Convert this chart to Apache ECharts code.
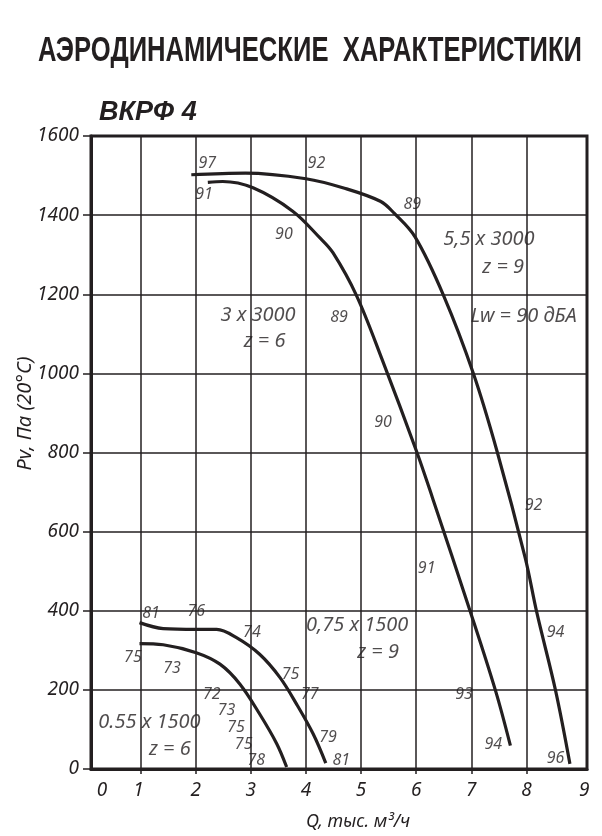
<!DOCTYPE html>
<html>
<head>
<meta charset="utf-8">
<script src="https://cdn.jsdelivr.net/npm/echarts@6/dist/echarts.min.js"></script>
<style>
  html, body { margin: 0; padding: 0; background: #fff; }
  #chart { width: 602px; height: 836px; }
</style>
</head>
<body>
<div id="chart"></div>
<script>
// Кривые Pv(Q): [Q, тыс. м3/ч ; Pv, Па]
var curve5530 = [[1.92, 1502], [2.9, 1506], [4.0, 1492], [4.7, 1468], [5.35, 1435], [5.6, 1405], [5.98, 1345], [6.5, 1196], [7.04, 999], [7.47, 802], [7.98, 533], [8.19, 395], [8.53, 198], [8.79, 13]];
var curve330 = [[2.22, 1483], [2.49, 1485], [3.04, 1469], [3.76, 1410], [4.25, 1343], [4.49, 1305], [4.92, 1196], [5.38, 1036], [6.01, 802], [6.3, 684], [6.98, 399], [7.44, 198], [7.71, 59]];
var curve07515 = [[0.98, 370], [1.41, 355], [2.01, 353], [2.38, 353], [2.74, 332], [3.16, 290], [3.53, 231], [3.83, 164], [4.13, 89], [4.36, 15]];
var curve05515 = [[0.98, 317], [1.41, 314], [2.01, 294], [2.44, 265], [2.8, 215], [3.16, 139], [3.47, 64], [3.65, 5]];

// Уровни шума вдоль кривых
var noiseLabels = [
  [2.21, 1531, '97'], [4.19, 1531, '92'], [2.15, 1453, '91'], [5.93, 1426, '89'],
  [3.6, 1351, '90'], [4.6, 1142, '89'], [5.4, 877, '90'], [8.13, 667, '92'],
  [6.19, 508, '91'], [8.53, 345, '94'], [6.87, 189, '93'], [7.4, 62, '94'],
  [8.53, 26, '96'],
  [1.19, 392, '81'], [2.01, 397, '76'], [3.02, 346, '74'], [0.86, 282, '75'],
  [1.57, 255, '73'], [3.72, 238, '75'], [2.29, 189, '72'], [4.07, 189, '77'],
  [2.56, 147, '73'], [2.73, 104, '75'], [4.4, 81, '79'], [2.87, 62, '75'],
  [3.1, 22, '78'], [4.64, 22, '81']
];

// Подписи типоразмеров
var sizeLabels = [
  [3.13, 1148, '3 x 3000'], [3.25, 1081, 'z = 6'],
  [7.32, 1338, '5,5 x 3000'], [7.58, 1267, 'z = 9'], [7.95, 1145, 'Lw = 90 дБА'],
  [4.93, 362, '0,75 x 1500'], [5.31, 294, 'z = 9'],
  [1.16, 118, '0.55 x 1500'], [1.53, 49, 'z = 6']
];

var xTicks = [1, 2, 3, 4, 5, 6, 7, 8];
var xLabelPos = [0.3, 0.96, 2, 3, 4, 5, 6, 7, 8, 9.05];

var ink = '#231f20';
var font = 'Noto Sans';

var titleText = 'АЭРОДИНАМИЧЕСКИЕ  ХАРАКТЕРИСТИКИ';
var titleFont = 'bold 35px "Liberation Sans"';

// сжимаем заголовок по ширине, как в оригинале (узкий шрифт)
var ctx = document.createElement('canvas').getContext('2d');
ctx.font = titleFont;
var titleScale = 544 / ctx.measureText(titleText).width;

var chart = echarts.init(document.getElementById('chart'));

function curve(data) {
  return {
    type: 'line',
    data: data,
    smooth: 0.35,
    showSymbol: false,
    silent: true,
    lineStyle: { color: ink, width: 3.2 },
    z: 3
  };
}

function textSeries(data, size) {
  return {
    type: 'scatter',
    data: data,
    symbolSize: 0,
    silent: true,
    z: 4,
    label: {
      show: true,
      position: 'inside',
      formatter: function (p) { return p.value[2]; },
      fontFamily: font,
      fontStyle: 'italic',
      fontSize: size,
      color: ink
    }
  };
}

var option = {
  animation: false,
  title: {
    text: 'ВКРФ 4',
    left: 94,
    top: 94,
    textStyle: { fontFamily: 'Liberation Sans', fontWeight: 'bold', fontStyle: 'italic', fontSize: 27, color: ink }
  },
  graphic: [{
    type: 'text',
    x: 310,
    y: 51,
    scaleX: titleScale,
    style: {
      text: titleText,
      font: titleFont,
      fill: ink,
      align: 'center',
      verticalAlign: 'middle'
    }
  }],
  grid: {
    left: 91, right: 15, top: 136, bottom: 64,
    show: true, borderColor: ink, borderWidth: 3, backgroundColor: 'transparent'
  },
  xAxis: {
    type: 'value',
    min: 0.1,
    max: 9.1,
    name: 'Q, тыс. м³/ч',
    nameLocation: 'middle',
    nameGap: 44,
    nameTextStyle: { fontFamily: font, fontStyle: 'italic', fontSize: 18, color: ink, padding: [0, 0, 0, 38] },
    axisLine: { show: true, lineStyle: { color: ink, width: 3 } },
    axisTick: { show: true, customValues: xTicks, length: 5, inside: false, lineStyle: { color: ink, width: 1.5 } },
    axisLabel: {
      customValues: xLabelPos,
      margin: 12,
      fontFamily: font, fontStyle: 'italic', fontSize: 19, color: ink,
      formatter: function (v) { return String(Math.round(v)); }
    },
    splitLine: { show: true, lineStyle: { color: ink, width: 1.5 } }
  },
  yAxis: {
    type: 'value',
    min: 0,
    max: 1600,
    interval: 200,
    name: 'Pv, Па (20°C)',
    nameLocation: 'middle',
    nameGap: 56,
    nameMoveOverlap: false,
    nameTextStyle: { fontFamily: font, fontStyle: 'italic', fontSize: 20, color: ink, padding: [0, 0, 0, 78] },
    axisLine: { show: true, lineStyle: { color: ink, width: 3 } },
    axisTick: { show: true, length: 8, lineStyle: { color: ink, width: 1.5 } },
    axisLabel: {
      margin: 12, fontFamily: font, fontStyle: 'italic', fontSize: 19, color: ink,
      formatter: function (v) { return String(v); }
    },
    splitLine: { show: true, lineStyle: { color: ink, width: 1.5 } }
  },
  series: [
    curve(curve5530),
    curve(curve330),
    curve(curve07515),
    curve(curve05515),
    textSeries(noiseLabels, 16),
    textSeries(sizeLabels, 20)
  ]
};

chart.setOption(option);
</script>
</body>
</html>
